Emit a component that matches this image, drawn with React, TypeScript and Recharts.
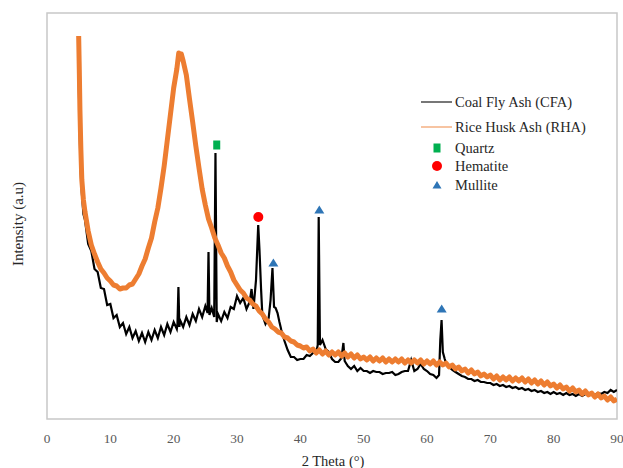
import React from 'react';
import { ComposedChart, Line, Scatter, XAxis, YAxis, ReferenceArea } from 'recharts';

const xTicks = [0, 10, 20, 30, 40, 50, 60, 70, 80, 90];

// Coal Fly Ash (CFA): [2θ, intensity]
const cfaPoints: [number, number][] = [
  [5.0, 343], [5.15, 289], [5.3, 249], [5.5, 226], [5.75, 205], [6, 199], [6.5, 175], [7, 168], [7.5, 150], [8, 147],
  [8.5, 131], [9, 130], [9.5, 114], [10, 115], [10.5, 101], [11, 104], [11.5, 92], [12, 96], [12.5, 85], [13, 92],
  [13.5, 81], [14, 88], [14.5, 78], [15, 86], [15.5, 77], [16, 87], [16.5, 79], [17, 89], [17.5, 81], [18, 92],
  [18.5, 84], [19, 95], [19.5, 87], [20, 97], [20.5, 90], [20.6, 95], [20.75, 132], [20.9, 92], [21, 99], [21.5, 92],
  [22, 102], [22.5, 94], [23, 105], [23.5, 98], [24, 110], [24.5, 102], [25, 113], [25.35, 106], [25.5, 167], [25.65, 104],
  [26, 111], [26.4, 102], [26.6, 266], [26.8, 97], [27, 105], [27.5, 98], [28, 107], [28.5, 101], [29, 112], [29.5, 110],
  [30, 123], [30.5, 116], [31, 121], [31.5, 110], [32, 117], [32.3, 130], [32.6, 110], [33.0, 139], [33.35, 194], [33.55, 169],
  [33.8, 130], [34.0, 104], [34.5, 95], [35.0, 101], [35.3, 119], [35.6, 151], [35.85, 112], [36.1, 111], [36.4, 106], [36.7, 97],
  [37, 89], [37.5, 78], [38, 69], [38.5, 62], [39, 62], [39.5, 59], [40, 60], [40.5, 60], [41, 64], [41.5, 63],
  [42, 66], [42.5, 66], [42.75, 74], [42.9, 202], [43.1, 74], [43.5, 79], [44, 70], [44.5, 67], [45, 60], [45.5, 57],
  [46, 57], [46.5, 61], [46.8, 76], [47, 58], [47.5, 53], [48, 50], [48.5, 53], [49, 48], [49.5, 51], [50, 48],
  [50.5, 48], [51, 46], [51.5, 48], [52, 47], [52.5, 47], [53, 45], [53.5, 46], [54, 46], [54.5, 47], [55, 44],
  [55.5, 45], [56, 47], [56.5, 48], [57, 48], [57.5, 59], [58, 48], [58.5, 50], [59, 55], [59.5, 50], [60, 48],
  [60.5, 45], [61, 44], [61.5, 41], [61.9, 44], [62.1, 79], [62.3, 99], [62.5, 67], [62.8, 60], [63, 56], [63.5, 52],
  [64, 49], [64.5, 47], [65, 45], [65.5, 43], [66, 42], [66.5, 40], [67, 40], [67.5, 38], [68, 39], [68.5, 37],
  [69, 37], [69.5, 36], [70, 36], [70.5, 34], [71, 35], [71.5, 33], [72, 34], [72.5, 32], [73, 33], [73.5, 31],
  [74, 32], [74.5, 30], [75, 31], [75.5, 29], [76, 30], [76.5, 28], [77, 29], [77.5, 27], [78, 28], [78.5, 26],
  [79, 27], [79.5, 25], [80, 27], [80.5, 25], [81, 26], [81.5, 24], [82, 26], [82.5, 24], [83, 25], [83.5, 23],
  [84, 25], [84.5, 23], [85, 25], [85.5, 24], [86, 26], [86.5, 24], [87, 26], [87.5, 25], [88, 27], [88.5, 26],
  [89, 29], [89.5, 27], [90, 29],
];

// Rice Husk Ash (RHA): [2θ, intensity]
const rhaPoints: [number, number][] = [
  [5.0, 383], [5.1, 349], [5.2, 309], [5.35, 269], [5.5, 239], [5.75, 219], [6, 207], [6.5, 188], [7, 174], [7.5, 165],
  [8, 157], [8.5, 150], [9, 146], [9.5, 141], [10, 138], [10.5, 134], [11, 133], [11.5, 130], [12, 131], [12.5, 131],
  [13, 134], [13.5, 135], [14, 140], [14.5, 145], [15, 153], [15.5, 160], [16, 171], [16.5, 181], [17, 197], [17.5, 211],
  [18, 231], [18.5, 253], [19, 279], [19.5, 305], [20, 331], [20.5, 350], [20.8, 366], [21, 360], [21.2, 365], [21.5, 358],
  [22, 344], [22.5, 320], [23, 297], [23.5, 273], [24, 251], [24.5, 230], [25, 214], [25.5, 200], [26, 191], [26.5, 181],
  [27, 174], [27.5, 166], [28, 161], [28.5, 153], [29, 147], [29.5, 139], [30, 134], [30.5, 129], [31, 126], [31.5, 121],
  [32, 119], [32.5, 115], [33, 113], [33.5, 108], [34, 105], [34.5, 100], [35, 97], [35.5, 92], [36, 90], [36.5, 87],
  [37, 86], [37.5, 82], [38, 81], [38.5, 78], [39, 77], [39.5, 74], [40, 73], [40.5, 71], [41, 72], [41.5, 68],
  [42, 70], [42.5, 66], [43, 69], [43.5, 65], [44, 68], [44.5, 64], [45, 67], [45.5, 64], [46, 67], [46.5, 63],
  [47, 66], [47.5, 62], [48, 65], [48.5, 61], [49, 64], [49.5, 60], [50, 62], [50.5, 59], [51, 62], [51.5, 58],
  [52, 61], [52.5, 58], [53, 61], [53.5, 57], [54, 60], [54.5, 57], [55, 60], [55.5, 57], [56, 60], [56.5, 56],
  [57, 59], [57.5, 56], [58, 59], [58.5, 56], [59, 59], [59.5, 55], [60, 58], [60.5, 55], [61, 58], [61.5, 54],
  [62, 57], [62.5, 54], [63, 56], [63.5, 52], [64, 54], [64.5, 50], [65, 52], [65.5, 48], [66, 50], [66.5, 46],
  [67, 49], [67.5, 45], [68, 47], [68.5, 43], [69, 45], [69.5, 42], [70, 44], [70.5, 40], [71, 43], [71.5, 39],
  [72, 42], [72.5, 39], [73, 42], [73.5, 38], [74, 41], [74.5, 38], [75, 41], [75.5, 37], [76, 40], [76.5, 36],
  [77, 39], [77.5, 35], [78, 38], [78.5, 34], [79, 37], [79.5, 33], [80, 35], [80.5, 31], [81, 34], [81.5, 30],
  [82, 32], [82.5, 28], [83, 31], [83.5, 27], [84, 29], [84.5, 25], [85, 28], [85.5, 24], [86, 26], [86.5, 22],
  [87, 25], [87.5, 21], [88, 23], [88.5, 19], [89, 22], [89.5, 18], [90, 20],
];

// Phase markers: [2θ, marker height]
const quartzMarks: [number, number][] = [[26.8, 274]];
const hematiteMarks: [number, number][] = [[33.37, 202]];
const mulliteMarks: [number, number][] = [[35.74, 156], [43.0, 209], [62.32, 110]];

const toRows = (pts: [number, number][]) => pts.map(([x, y]) => ({ x, y }));

const FONT = "'Liberation Serif', 'Times New Roman', serif";
const C_CFA = '#000000';
const C_RHA = '#ED7D31';
const C_QZ = '#00B050';
const C_HEM = '#FF0000';
const C_MUL = '#2E75B6';

const SquareShape = (p: any) => <rect x={p.cx - 3.5} y={p.cy - 4.5} width={7} height={9} fill={C_QZ} />;
const CircleShape = (p: any) => <circle cx={p.cx} cy={p.cy} r={5} fill={C_HEM} />;
const TriShape = (p: any) => (
  <polygon points={`${p.cx},${p.cy - 4.5} ${p.cx + 5},${p.cy + 3.5} ${p.cx - 5},${p.cy + 3.5}`} fill={C_MUL} />
);

const XTick = (p: any) => (
  <text x={p.x} y={438} textAnchor="middle" dominantBaseline="central" style={{ fontFamily: FONT }} fontSize={13.3} fill="#595959">
    {p.payload.value}
  </text>
);

const legendRows = [
  { label: 'Coal Fly Ash (CFA)', kind: 'line', color: '#4a4a4a', cy: 102 },
  { label: 'Rice Husk Ash (RHA)', kind: 'line', color: '#F4B183', cy: 127 },
  { label: 'Quartz', kind: 'square', color: C_QZ, cy: 148 },
  { label: 'Hematite', kind: 'circle', color: C_HEM, cy: 166 },
  { label: 'Mullite', kind: 'tri', color: C_MUL, cy: 185 },
];

const LegendIcon = ({ kind, color }: { kind: string; color: string }) => (
  <svg width={34} height={18} style={{ display: 'block' }}>
    {kind === 'line' && <line x1={0} y1={9} x2={31} y2={9} stroke={color} strokeWidth={1.5} />}
    {kind === 'square' && <rect x={12.5} y={4.5} width={7} height={9} fill={color} />}
    {kind === 'circle' && <circle cx={16} cy={9} r={5} fill={color} />}
    {kind === 'tri' && <polygon points="16,5 20.5,12.5 11.5,12.5" fill={color} />}
  </svg>
);

export default function App() {
  return (
    <div style={{ position: 'absolute', left: 0, top: 0, width: 623, height: 468, background: '#fff', fontFamily: FONT }}>
      <ComposedChart width={623} height={468} margin={{ top: 13, right: 6, bottom: 0, left: 0 }} style={{ fontFamily: FONT }}>
        <XAxis
          type="number"
          dataKey="x"
          domain={[0, 90]}
          ticks={xTicks}
          interval={0}
          axisLine={false}
          tickLine={false}
          height={49}
          tick={<XTick />}
          allowDataOverflow
          label={() => (
            <text x={333} y={461} textAnchor="middle" dominantBaseline="central" style={{ fontFamily: FONT }} fontSize={14.5} fill="#262626">
              2 Theta (°)
            </text>
          )}
        />
        <YAxis
          type="number"
          domain={[0, 406]}
          width={47}
          tick={false}
          axisLine={false}
          tickLine={false}
          allowDataOverflow
          label={() => (
            <text
              x={18}
              y={224}
              transform="rotate(-90 18 224)"
              textAnchor="middle"
              dominantBaseline="central"
              style={{ fontFamily: FONT }}
              fontSize={15}
              fill="#262626"
            >
              Intensity (a.u)
            </text>
          )}
        />
        <ReferenceArea x1={0} x2={90} y1={0} y2={406} fill="none" stroke="#c8c8c8" strokeWidth={1.5} ifOverflow="visible" />
        <Line data={toRows(cfaPoints)} dataKey="y" type="linear" stroke={C_CFA} strokeWidth={2.2} dot={false} activeDot={false} isAnimationActive={false} />
        <Line data={toRows(rhaPoints)} dataKey="y" type="linear" stroke={C_RHA} strokeWidth={5} strokeLinejoin="round" dot={false} activeDot={false} isAnimationActive={false} />
        <Scatter data={toRows(quartzMarks)} dataKey="y" shape={SquareShape} isAnimationActive={false} />
        <Scatter data={toRows(hematiteMarks)} dataKey="y" shape={CircleShape} isAnimationActive={false} />
        <Scatter data={toRows(mulliteMarks)} dataKey="y" shape={TriShape} isAnimationActive={false} />
      </ComposedChart>
      {legendRows.map((r) => (
        <div
          key={r.label}
          style={{
            position: 'absolute',
            left: 421,
            top: r.cy - 9,
            height: 18,
            display: 'flex',
            alignItems: 'center',
            fontFamily: FONT,
            fontSize: 14.5,
            color: '#262626',
            whiteSpace: 'nowrap',
            lineHeight: '18px',
          }}
        >
          <LegendIcon kind={r.kind} color={r.color} />
          <span>{r.label}</span>
        </div>
      ))}
    </div>
  );
}
